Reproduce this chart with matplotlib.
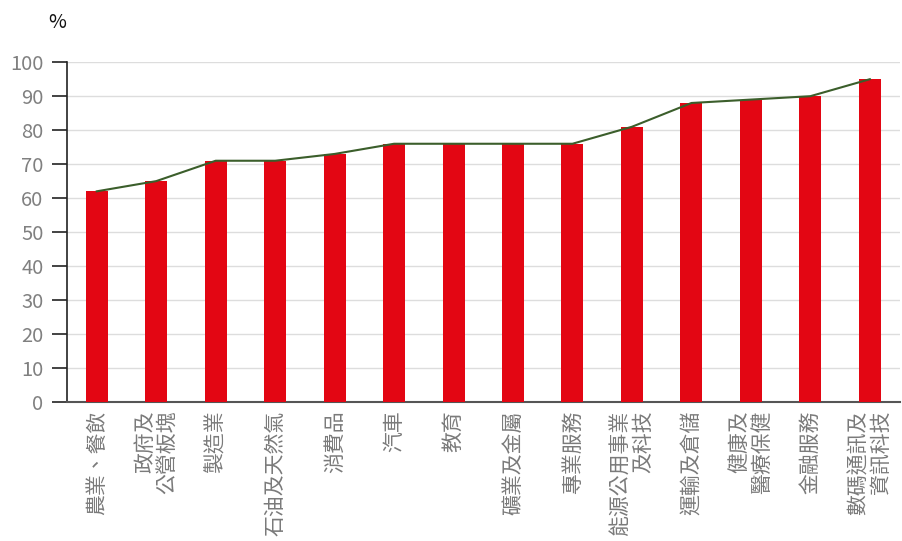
import matplotlib.pyplot as plt

plt.rcParams['font.family'] = ['Noto Sans CJK TC', 'DejaVu Sans']

sectors = [
    "農業、餐飲", "政府及\n公營板塊", "製造業", "石油及天然氣", "消費品", "汽車", "教育",
    "礦業及金屬", "專業服務", "能源公用事業\n及科技", "運輸及倉儲", "健康及\n醫療保健",
    "金融服務", "數碼通訊及\n資訊科技",
]
pct = [62, 65, 71, 71, 73, 76, 76, 76, 76, 81, 88, 89, 90, 95]

fig = plt.figure(figsize=(9.03, 5.41), dpi=100)
ax = fig.add_axes([0.0742, 0.257, 0.922, 0.628])

x = range(len(sectors))
ax.bar(x, pct, width=0.37, color="#e30613", zorder=3)
ax.plot(x, pct, color="#3b5e2b", linewidth=1.5, zorder=4)

ax.set_ylim(0, 100)
ax.set_xlim(-0.5, 13.5)
ax.set_yticks(range(0, 101, 10))
ax.yaxis.grid(True, color="#dddddd", linewidth=1, zorder=0)
ax.set_axisbelow(True)

ax.set_xticks(list(x))
ax.set_xticklabels(sectors, rotation=90, fontsize=15, color="#7a7a7a",
                   va="top", ha="center", multialignment="right",
                   linespacing=1.05)
ax.tick_params(axis="x", length=0, pad=6)
ax.tick_params(axis="y", length=11, width=1.2, color="#222222", labelsize=14.5,
               labelcolor="#808080", pad=6)

for s in ["top", "right"]:
    ax.spines[s].set_visible(False)
ax.spines["left"].set_color("#222222")
ax.spines["left"].set_linewidth(1.2)
ax.spines["bottom"].set_color("#555555")
ax.spines["bottom"].set_linewidth(1.5)

fig.text(0.063, 0.958, "%", fontsize=14, color="#111111", ha="center", va="center")

fig.savefig("out.png", dpi=100)
